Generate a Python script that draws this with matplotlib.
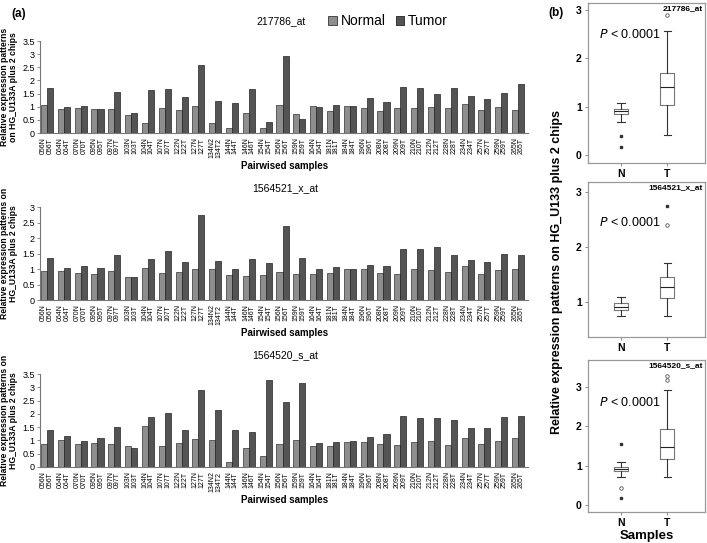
import matplotlib
matplotlib.use('Agg')
import matplotlib.pyplot as plt
from matplotlib.patches import Patch
import numpy as np

plt.rcParams['font.family'] = ['Liberation Sans', 'DejaVu Sans']
narrow = ['Liberation Sans Narrow', 'Liberation Sans', 'DejaVu Sans']

# sample pairs
pairs = ['056', '064', '070', '095', '097', '103', '104', '107', '122', '127',
         '134', '144', '146', '154', '156', '159', '164', '181', '184', '196',
         '208', '209', '210', '212', '228', '234', '257', '259', '265']
tick_labels = [p + 'N\n' + p + 'T' if p != '134' else '134N2\n134T2' for p in pairs]

probes = ['217786_at', '1564521_x_at', '1564520_s_at']

# 217786_at
n1 = [1.06, 0.91, 0.97, 0.91, 0.91, 0.67, 0.39, 0.96, 0.88, 1.02,
      0.40, 0.19, 0.78, 0.19, 1.07, 0.71, 1.02, 0.85, 1.02, 0.94,
      0.82, 0.95, 0.97, 0.99, 0.94, 1.09, 0.87, 0.99, 0.87]
t1 = [1.73, 1.00, 1.02, 0.91, 1.55, 0.76, 1.62, 1.69, 1.39, 2.57,
      1.20, 1.14, 1.68, 0.42, 2.92, 0.52, 1.00, 1.05, 1.02, 1.33,
      1.18, 1.76, 1.71, 1.50, 1.71, 1.42, 1.31, 1.53, 1.85]
# 1564521_x_at
n2 = [0.94, 0.95, 0.86, 0.83, 0.94, 0.75, 1.03, 0.88, 0.91, 0.99,
      1.01, 0.80, 0.77, 0.81, 0.90, 0.84, 0.83, 0.87, 1.00, 1.01,
      0.86, 0.84, 0.99, 0.96, 0.90, 1.11, 0.85, 0.97, 0.99]
t2 = [1.35, 1.05, 1.09, 1.03, 1.44, 0.74, 1.31, 1.57, 1.22, 2.76,
      1.26, 0.99, 1.31, 1.18, 2.40, 1.35, 1.00, 1.08, 1.00, 1.12,
      1.10, 1.66, 1.66, 1.70, 1.46, 1.28, 1.24, 1.50, 1.44]
# 1564520_s_at
n3 = [0.88, 1.00, 0.85, 0.90, 0.85, 0.78, 1.54, 0.80, 0.90, 1.05,
      1.02, 0.19, 0.70, 0.41, 0.87, 1.00, 0.78, 0.79, 0.93, 0.94,
      0.85, 0.82, 0.94, 0.97, 0.83, 1.09, 0.87, 0.98, 1.09]
t3 = [1.39, 1.17, 0.98, 1.09, 1.49, 0.72, 1.89, 2.02, 1.39, 2.91,
      2.13, 1.41, 1.32, 3.29, 2.45, 3.17, 0.90, 0.93, 0.99, 1.14,
      1.24, 1.94, 1.84, 1.83, 1.77, 1.47, 1.47, 1.89, 1.92]

normal = [n1, n2, n3]
tumor = [t1, t2, t3]
bar_ylims = [3.5, 3, 3.5]
bar_ylabels = ['Relative expression patterns\non HG_U133A plus 2 chips',
               'Relative expression patterns on\nHG_U133A plus 2 chips',
               'Relative expression patterns on\nHG_U133A plus 2 chips']

# box plot summaries: [low whisker, q1, median, q3, high whisker]
box_N = [[0.68, 0.85, 0.90, 0.95, 1.07],
         [0.75, 0.85, 0.90, 0.97, 1.08],
         [0.70, 0.85, 0.90, 0.95, 1.10]]
box_T = [[0.42, 1.03, 1.40, 1.70, 2.56],
         [0.74, 1.07, 1.27, 1.45, 1.70],
         [0.70, 1.16, 1.47, 1.92, 2.92]]
circ_N = [[], [], [0.42]]
circ_T = [[2.90], [2.40], [3.17, 3.28]]
dot_N = [[0.38, 0.17], [], [1.55, 0.18]]
dot_T = [[], [2.75], []]
box_ylims = [(-0.17, 3.15), (0.36, 3.18), (-0.18, 3.68)]
box_yticks = [[0, 1, 2, 3], [1, 2, 3], [0, 1, 2, 3]]

fig = plt.figure(figsize=(7.07, 5.43), dpi=100)

c_norm = '#8e8e8e'
c_tum = '#545454'
bar_pos = [(0.057, 0.755, 0.69, 0.1694),
           (0.057, 0.4475, 0.69, 0.171),
           (0.057, 0.14, 0.69, 0.171)]
title_y = [0.961, 0.654, 0.346]
x = np.arange(len(pairs))
w = 0.36
for k in range(3):
    ax = fig.add_axes(bar_pos[k])
    ax.bar(x - w / 2, normal[k], w, color=c_norm, edgecolor='#333333', linewidth=0.5)
    ax.bar(x + w / 2, tumor[k], w, color=c_tum, edgecolor='#222222', linewidth=0.5)
    ax.set_xlim(-0.4, len(pairs) - 0.4)
    ax.set_ylim(0, bar_ylims[k])
    yt = np.arange(0, bar_ylims[k] + 0.01, 0.5)
    ax.set_yticks(yt)
    ax.set_yticklabels(['%g' % v for v in yt], fontsize=6.5)
    ax.set_xticks(x)
    ax.set_xticklabels(tick_labels, rotation=90, fontsize=5, linespacing=0.95, family=narrow)
    ax.tick_params(axis='x', length=0, pad=3)
    ax.tick_params(axis='y', length=2, width=0.6, pad=2, color='#777777')
    for s in ['top', 'right']:
        ax.spines[s].set_visible(False)
    for s in ['left', 'bottom']:
        ax.spines[s].set_color('#777777')
        ax.spines[s].set_linewidth(0.8)
    ax.set_ylabel(bar_ylabels[k], fontsize=6.2, fontweight='bold', labelpad=3, family=narrow,
                  linespacing=1.05)
    ax.set_xlabel('Pairwised samples', fontsize=7, fontweight='bold', labelpad=2)
    fig.text(0.398 + (0.006 if k else 0), title_y[k], probes[k], fontsize=7.5, ha='center', va='center')

fig.legend(handles=[Patch(facecolor=c_norm, edgecolor='#333333', linewidth=0.6, label='Normal'),
                    Patch(facecolor=c_tum, edgecolor='#222222', linewidth=0.6, label='Tumor')],
           loc='center', bbox_to_anchor=(0.549, 0.961), ncol=2, frameon=False, fontsize=10,
           handlelength=0.6, handleheight=0.6, handletextpad=0.3, columnspacing=0.7)

fig.text(0.016, 0.985, '(a)', fontsize=8.5, fontweight='bold', va='top')
fig.text(0.775, 0.988, '(b)', fontsize=8.5, fontweight='bold', va='top')

box_pos = [(0.8317, 0.6998, 0.1655, 0.2947),
           (0.8317, 0.3794, 0.1655, 0.2855),
           (0.8317, 0.0571, 0.1655, 0.28)]
p_y = [0.80, 0.74, 0.72]
for k in range(3):
    ax = fig.add_axes(box_pos[k])
    stats = []
    for lbl, b, c in [('N', box_N[k], circ_N[k]), ('T', box_T[k], circ_T[k])]:
        stats.append({'label': lbl, 'whislo': b[0], 'q1': b[1], 'med': b[2],
                      'q3': b[3], 'whishi': b[4], 'fliers': c})
    ax.bxp(stats, positions=[1, 2], widths=0.3, capwidths=0.16,
           boxprops=dict(color='#777777', linewidth=0.8),
           whiskerprops=dict(color='#333333', linewidth=0.8),
           capprops=dict(color='#333333', linewidth=0.8),
           medianprops=dict(color='#222222', linewidth=0.8),
           flierprops=dict(marker='o', markersize=2.5, markerfacecolor='none',
                           markeredgecolor='#555555', markeredgewidth=0.6))
    ax.plot([1] * len(dot_N[k]), dot_N[k], ls='none', marker='s', ms=1.6, color='#333333')
    ax.plot([2] * len(dot_T[k]), dot_T[k], ls='none', marker='s', ms=1.6, color='#333333')
    ax.set_xlim(0.28, 2.82)
    ax.set_ylim(*box_ylims[k])
    ax.set_yticks(box_yticks[k])
    ax.set_yticklabels([str(v) for v in box_yticks[k]], fontsize=7.5, fontweight='bold')
    ax.set_xticklabels(['N', 'T'], fontsize=7.5, fontweight='bold')
    ax.tick_params(length=2.5, width=0.6, color='#777777', pad=2)
    for s in ['top', 'right', 'left', 'bottom']:
        ax.spines[s].set_color('#999999')
        ax.spines[s].set_linewidth(0.9)
    ax.text(0.09, p_y[k], '$P$ < 0.0001', transform=ax.transAxes, fontsize=9, va='center')
    ax.text(0.98, 0.985, probes[k], transform=ax.transAxes, fontsize=6, fontweight='bold',
            ha='right', va='top')
    if k == 2:
        ax.set_xlabel('Samples', fontsize=9.5, fontweight='bold', labelpad=1)

fig.text(0.788, 0.5, 'Relative expression patterns on HG_U133 plus 2 chips', rotation=90,
         fontsize=9, fontweight='bold', ha='center', va='center')

fig.savefig('out.png', dpi=100)
